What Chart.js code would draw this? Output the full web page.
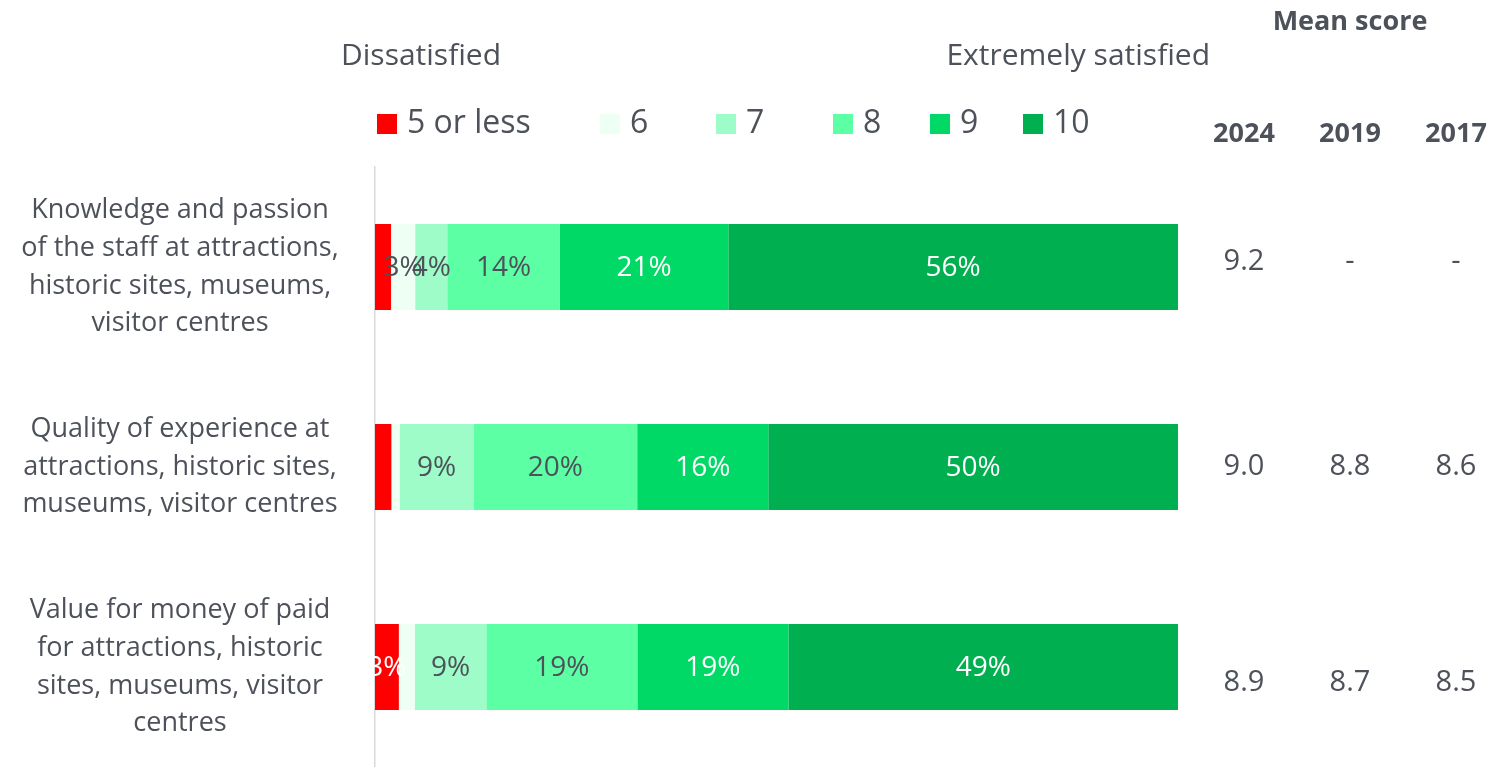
<!DOCTYPE html>
<html><head><meta charset="utf-8">
<script src="https://cdn.jsdelivr.net/npm/chart.js@4.4.1/dist/chart.umd.min.js"></script>
<style>html,body{margin:0;padding:0;background:#fff;overflow:hidden}#wrap{width:1508px;height:767px;position:relative}</style>
</head><body><div id="wrap"><canvas id="c"></canvas></div>
<script>
// ---- data ----
const categories = [
  ["Knowledge and passion", "of the staff at attractions,", "historic sites, museums,", "visitor centres"],
  ["Quality of experience at", "attractions, historic sites,", "museums, visitor centres"],
  ["Value for money of paid", "for attractions, historic", "sites, museums, visitor", "centres"]
];
const seriesNames = ["5 or less", "6", "7", "8", "9", "10"];
const score5orLess = [2, 2, 3];
const score6 = [3, 1, 2];
const score7 = [4, 9, 9];
const score8 = [14, 20, 19];
const score9 = [21, 16, 19];
const score10 = [56, 50, 49];
const meanYears = ["2024", "2019", "2017"];
const mean2024 = [9.2, 9.0, 8.9];
const mean2019 = [null, 8.8, 8.7];
const mean2017 = [null, 8.6, 8.5];

// ---- styles ----
const colors = ["#FF0000", "#EEFFF3", "#9EFCC8", "#5CFFA4", "#00D966", "#00AF50"];
const labelColors = ["#ffffff", "#4d5159", "#4d5159", "#4d5159", "#ffffff", "#ffffff"];
const TXT = "#4d5159";
const FF = "'Open Sans', 'Noto Sans', sans-serif";

const allSeries = [score5orLess, score6, score7, score8, score9, score10];
const rowTotals = categories.map((_, i) => allSeries.reduce((s, arr) => s + arr[i], 0));
const datasets = allSeries.map((arr, k) => ({
  label: seriesNames[k],
  data: arr.map((v, i) => v / rowTotals[i] * 100),
  raw: arr,
  backgroundColor: colors[k],
  borderWidth: 0,
  barPercentage: 0.43,
  categoryPercentage: 1.0
}));

// tick padding so that category labels are centered around x≈180
const tickFont = {family: "Open Sans", size: 27, lineHeight: 1.4};
const mctx = document.createElement('canvas').getContext('2d');
mctx.font = tickFont.size + "px 'Open Sans'";
let widest = 0;
categories.forEach(c => c.forEach(l => { widest = Math.max(widest, mctx.measureText(l).width); }));
const axisRight = 375, labelCenter = 180;
const tickPad = Math.max(2, axisRight - labelCenter - widest / 2);

const dataLabelPlugin = {
  id: 'dataLabels',
  afterDatasetsDraw(chart) {
    const ctx = chart.ctx;
    ctx.save();
    ctx.font = "28px " + FF;
    ctx.textAlign = 'center';
    ctx.textBaseline = 'middle';
    chart.data.datasets.forEach((ds, k) => {
      const meta = chart.getDatasetMeta(k);
      meta.data.forEach((el, i) => {
        const v = ds.raw[i];
        if (v < 3) return;
        const p = el.getProps(['x', 'y', 'base'], true);
        ctx.fillStyle = labelColors[k];
        ctx.fillText(v + "%", (p.x + p.base) / 2, p.y + 1);
      });
    });
    ctx.restore();
  }
};

const legendX = [377, 600, 716, 833, 930, 1023];
const decorPlugin = {
  id: 'decor',
  afterDraw(chart) {
    const ctx = chart.ctx;
    ctx.save();
    ctx.fillStyle = TXT;
    ctx.textBaseline = 'middle';
    // header texts
    ctx.font = "30px " + FF;
    ctx.textAlign = 'left';
    ctx.fillText("Dissatisfied", 341, 56);
    ctx.textAlign = 'right';
    ctx.fillText("Extremely satisfied", 1210, 56);
    // legend
    ctx.font = "32px " + FF;
    ctx.textAlign = 'left';
    const ly = 124;
    chart.data.datasets.forEach((ds, k) => {
      const x = legendX[k];
      ctx.fillStyle = ds.backgroundColor;
      ctx.fillRect(x, ly - 10, 20, 20);
      ctx.fillStyle = TXT;
      ctx.fillText(ds.label, x + 30, ly);
    });
    // mean score table
    const cols = [1244, 1350, 1456];
    ctx.textAlign = 'center';
    ctx.font = "bold 27px " + FF;
    ctx.fillText("Mean score", 1350, 22);
    meanYears.forEach((y, j) => ctx.fillText(y, cols[j], 134));
    ctx.font = "29px " + FF;
    const yScale = chart.scales.y;
    const offs = [-5, 0, 16];
    [mean2024, mean2019, mean2017].forEach((arr, j) => {
      arr.forEach((v, i) => {
        const yy = yScale.getPixelForValue(i) + offs[i];
        ctx.fillText(v == null ? "-" : v.toFixed(1), cols[j], yy);
      });
    });
    ctx.restore();
  }
};

new Chart(document.getElementById('c'), {
  type: 'bar',
  data: {labels: categories, datasets},
  options: {
    indexAxis: 'y',
    responsive: true,
    maintainAspectRatio: false,
    animation: false,
    devicePixelRatio: 1,
    layout: {padding: {top: 167, right: 330, bottom: -4, left: 0}},
    plugins: {legend: {display: false}, tooltip: {enabled: false}},
    scales: {
      x: {stacked: true, min: 0, max: 100, display: false},
      y: {
        stacked: true,
        grid: {display: false, drawTicks: false},
        border: {display: true, color: '#d9d9d9', width: 1.5},
        ticks: {font: tickFont, color: TXT, crossAlign: 'center', padding: tickPad},
        afterFit(scale) { scale.width = axisRight; scale.paddingTop = 0; scale.paddingBottom = 0; }
      }
    }
  },
  plugins: [dataLabelPlugin, decorPlugin]
});
</script></body></html>
